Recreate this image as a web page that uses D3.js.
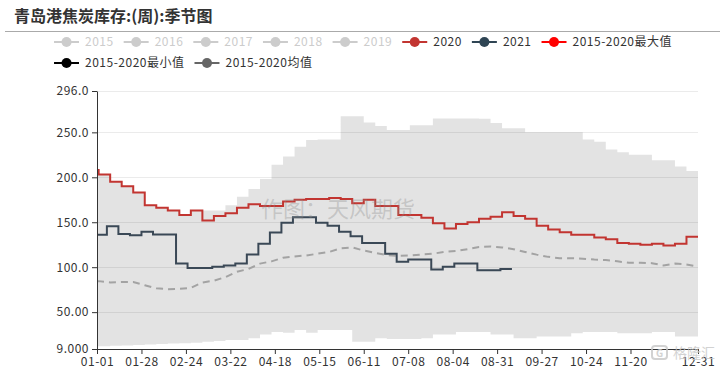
<!DOCTYPE html>
<html>
<head>
<meta charset="utf-8">
<script src="https://cdn.jsdelivr.net/npm/d3@7"></script>
<style>
    body { margin: 0; background: #ffffff; }
    svg { display: block; font-family: "Noto Sans CJK SC", "Noto Sans", sans-serif; }
</style>
</head>
<body>
<script>
// chart size
const WIDTH = 726;
const HEIGHT = 371;

// plot area
const MARGIN = { top: 91, right: 28, bottom: 22, left: 97 };

// weekly dates on the 2020 calendar (max / min / mean / 2020 share these)
const dates2020 = ["01-01", "01-02", "01-09", "01-16", "01-23", "01-30", "02-06", "02-13", "02-20", "02-27",
    "03-05", "03-12", "03-19", "03-26", "04-02", "04-09", "04-16", "04-23", "04-30", "05-07",
    "05-14", "05-21", "05-28", "06-04", "06-11", "06-18", "06-25", "07-02", "07-09", "07-16",
    "07-23", "07-30", "08-06", "08-13", "08-20", "08-27", "09-03", "09-10", "09-17", "09-24",
    "10-01", "10-08", "10-15", "10-22", "10-29", "11-05", "11-12", "11-19", "11-26", "12-03",
    "12-10", "12-17", "12-24", "12-31"];

// 2020 stock
const values2020 = [208, 203, 195, 190, 183, 169, 166, 163, 158, 163,
    152, 157, 160, 166, 170, 168, 168, 173, 175, 176,
    176, 177, 176, 171, 175, 168, 168, 158, 158, 155,
    149, 143, 148, 150, 154, 156, 161, 157, 154, 146,
    142, 139, 136, 136, 133, 131, 127, 126, 125, 126,
    124, 126, 134, 134];

// 2015-2020 max
const valuesMax = [208, 203, 195, 190, 183, 169, 166, 163, 158, 163,
    163, 163, 169, 178.5, 187, 198, 214, 223, 234, 241.5,
    242, 242, 268, 268, 261, 257, 252.5, 252.5, 258, 258,
    265.5, 265.5, 265.5, 265.5, 265, 260.5, 254.5, 254.5, 250, 250,
    250, 250, 250, 242, 239.5, 231, 228, 225, 225, 219,
    219, 212, 207, 207];

// 2015-2020 min
const valuesMin = [12, 12, 12.5, 13, 13.5, 14, 14.5, 15, 15.5, 16,
    17, 18, 19, 19, 21, 25, 28, 27, 30, 27,
    30, 30, 30, 17, 17, 21, 20, 20, 20, 21,
    25, 25, 28, 28, 28, 25, 25, 21, 21, 23,
    23, 23, 26.5, 28, 28, 28, 26.5, 26.5, 26.5, 28,
    28, 23, 23, 23];

// 2015-2020 mean
const valuesMean = [84.5, 84.5, 83, 83.5, 83.5, 80, 76.5, 75.5, 76, 77,
    83, 85, 89, 95, 98, 104, 106.5, 110.5, 112, 113,
    115, 117, 121, 122, 118.5, 116, 113.5, 112.5, 113, 114,
    115, 117, 118, 120, 122.5, 123, 122, 120, 117, 114,
    111.5, 110, 110, 109.5, 108.5, 108, 106.5, 105, 105, 104.5,
    102, 104, 103, 100.5];

// 2021 weekly dates and stock
const dates2021 = ["01-01", "01-07", "01-14", "01-21", "01-28", "02-04", "02-11", "02-18", "02-25", "03-04",
    "03-11", "03-18", "03-25", "04-01", "04-08", "04-15", "04-22", "04-29", "05-06", "05-13",
    "05-20", "05-27", "06-03", "06-10", "06-17", "06-24", "07-01", "07-08", "07-15", "07-22",
    "07-29", "08-05", "08-12", "08-19", "08-26", "09-02", "09-09"];
const values2021 = [136, 145.5, 137, 135.5, 139.5, 136.5, 136.5, 104, 99, 99,
    100.5, 102, 104, 114, 126, 138.5, 149.5, 155.5, 155.5, 149.5,
    146, 139.5, 134.5, 127, 127, 115, 106, 108.5, 108.5, 97.5,
    100.5, 104, 104, 96.5, 96.5, 98, 98];

// axis ticks
const yTicks = [9, 50, 100, 150, 200, 250, 296];
const yTickLabels = ["9.000", "50.00", "100.0", "150.0", "200.0", "250.0", "296.0"];
const xTickLabels = ["01-01", "01-28", "02-24", "03-22", "04-18", "05-15", "06-11", "07-08",
    "08-04", "08-31", "09-27", "10-24", "11-20", "12-31"];

// legend
const legendRow1 = ["2015", "2016", "2017", "2018", "2019", "2020", "2021", "2015-2020最大值"];
const legendRow2 = ["2015-2020最小值", "2015-2020均值"];
const legendColors = {
    "2015": "#cccccc", "2016": "#cccccc", "2017": "#cccccc", "2018": "#cccccc", "2019": "#cccccc",
    "2020": "#c23531", "2021": "#2f4554", "2015-2020最大值": "#ff0000",
    "2015-2020最小值": "#000000", "2015-2020均值": "#666666"
};
const disabledYears = ["2015", "2016", "2017", "2018", "2019"];

// all MM-DD strings are put on the leap 2020 calendar
const parseDay = d3.timeParse("%Y-%m-%d");
const toDate = (md) => parseDay("2020-" + md);

const svg = d3.select("body")
    .append("svg")
    .attr("width", WIDTH)
    .attr("height", HEIGHT);

// title + rule under it
svg.append("text")
    .attr("x", 14)
    .attr("y", 22)
    .text("青岛港焦炭库存:(周):季节图")
    .style("font-size", "16px")
    .style("font-weight", "bold")
    .style("fill", "#333");

svg.append("line")
    .attr("x1", 5).attr("x2", 720)
    .attr("y1", 31.5).attr("y2", 31.5)
    .style("stroke", "#aaaaaa");

// scales
const x = d3.scaleTime()
    .domain([toDate("01-01"), toDate("12-31")])
    .range([MARGIN.left, WIDTH - MARGIN.right]);

const y = d3.scaleLinear()
    .domain([9, 296])
    .range([HEIGHT - MARGIN.bottom, MARGIN.top]);

const plot = svg.append("g").classed("plot", true);

// grey band between min and max
const band = dates2020.map((d, i) => ({ date: toDate(d), lo: valuesMin[i], hi: valuesMax[i] }));
plot.append("path")
    .datum(band)
    .attr("d", d3.area()
        .x(d => x(d.date))
        .y0(d => y(d.lo))
        .y1(d => y(d.hi))
        .curve(d3.curveStepAfter))
    .style("fill", "#e3e3e3");

// horizontal grid lines (drawn over the band)
plot.selectAll("line.grid")
    .data(yTicks.filter(v => v !== 9))
    .enter()
    .append("line").classed("grid", true)
    .attr("x1", x.range()[0]).attr("x2", x.range()[1])
    .attr("y1", d => Math.round(y(d)) + 0.5).attr("y2", d => Math.round(y(d)) + 0.5)
    .style("stroke", "rgba(0,0,0,0.08)");

// watermark
svg.append("text")
    .attr("x", 338)
    .attr("y", 217)
    .attr("text-anchor", "middle")
    .text("作图：天风期货")
    .style("font-size", "22px")
    .style("fill", "rgba(140,140,140,0.35)");

// lines
const stepLine = d3.line()
    .x(d => x(d.date))
    .y(d => y(d.value))
    .curve(d3.curveStepAfter);

const mean = dates2020.map((d, i) => ({ date: toDate(d), value: valuesMean[i] }));
plot.append("path")
    .datum(mean)
    .attr("d", d3.line().x(d => x(d.date)).y(d => y(d.value)))
    .style("fill", "none")
    .style("stroke", "#a3a3a3")
    .style("stroke-width", 2)
    .style("stroke-dasharray", "7,5");

const s2020 = dates2020.map((d, i) => ({ date: toDate(d), value: values2020[i] }));
plot.append("path")
    .datum(s2020)
    .attr("d", stepLine)
    .style("fill", "none")
    .style("stroke", "#c23531")
    .style("stroke-width", 2);

const s2021 = dates2021.map((d, i) => ({ date: toDate(d), value: values2021[i] }));
plot.append("path")
    .datum(s2021)
    .attr("d", stepLine)
    .style("fill", "none")
    .style("stroke", "#3a4856")
    .style("stroke-width", 2);

// axes
const yAxis = svg.append("g")
    .attr("transform", `translate(${MARGIN.left},0)`)
    .call(d3.axisLeft(y)
        .tickValues(yTicks)
        .tickFormat((d, i) => yTickLabels[i])
        .tickSize(5)
        .tickSizeOuter(0));

const xAxis = svg.append("g")
    .attr("transform", `translate(0,${HEIGHT - MARGIN.bottom})`)
    .call(d3.axisBottom(x)
        .tickValues(xTickLabels.map(toDate))
        .tickFormat(d3.timeFormat("%m-%d"))
        .tickSize(5)
        .tickSizeOuter(0));

[xAxis, yAxis].forEach(a => {
    a.selectAll("path, line").style("stroke", "#333");
    a.selectAll("text")
        .style("font-size", "12px")
        .style("letter-spacing", "0.5px")
        .style("fill", "#333")
        .style("font-family", "\"Noto Sans CJK SC\", \"Noto Sans\", sans-serif");
});

// legend, two rows, centred as a block
const legend = svg.append("g").classed("legend", true);

const drawRow = (names, rowY) => {
    const row = legend.append("g");
    let cx = 0;
    names.forEach(name => {
        const color = legendColors[name];
        const item = row.append("g").attr("transform", `translate(${cx},${rowY})`);
        item.append("line")
            .attr("x1", 0).attr("x2", 25)
            .style("stroke", color)
            .style("stroke-width", 2);
        item.append("circle")
            .attr("cx", 12.5)
            .attr("r", 5)
            .style("fill", color);
        const label = item.append("text")
            .attr("x", 31)
            .attr("dy", "0.35em")
            .text(name)
            .style("font-size", "12px")
            .style("letter-spacing", "0.5px")
            .style("fill", disabledYears.includes(name) ? "#cccccc" : "#333");
        cx += 31 + label.node().getComputedTextLength() + 10;
    });
    return { row, width: cx - 10 };
};

const r1 = drawRow(legendRow1, 42);
const r2 = drawRow(legendRow2, 63);
const legendLeft = (WIDTH - r1.width) / 2;
r1.row.attr("transform", `translate(${legendLeft},0)`);
r2.row.attr("transform", `translate(${legendLeft},0)`);

// site watermark, bottom right
const mark = svg.append("g").style("opacity", 0.8);
mark.append("rect")
    .attr("x", 652).attr("y", 346)
    .attr("width", 15).attr("height", 13)
    .attr("rx", 3)
    .style("fill", "none")
    .style("stroke", "#c8c8c8")
    .style("stroke-width", 2);
mark.append("text")
    .attr("x", 659.5).attr("y", 356.5)
    .attr("text-anchor", "middle")
    .text("G")
    .style("font-size", "10px")
    .style("font-weight", "bold")
    .style("fill", "#c8c8c8");
mark.append("text")
    .attr("x", 673).attr("y", 358)
    .text("格隆汇")
    .style("font-size", "14px")
    .style("fill", "#c8c8c8");
</script>
</body>
</html>
